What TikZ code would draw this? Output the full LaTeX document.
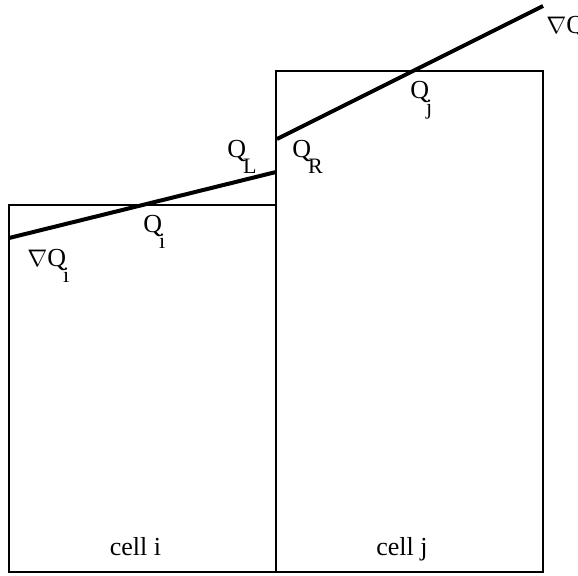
\documentclass[tikz,border=0pt]{standalone}
\usepackage{fontspec}
\setmainfont{Liberation Serif}
\usetikzlibrary{calc}
\def\sub#1{\hspace{-1.5pt}\raisebox{-8pt}{\fontsize{11}{13}\selectfont #1}}

\begin{document}
\begin{tikzpicture}[x=0.5pt,y=-0.5pt]
	\useasboundingbox (0,0) rectangle (578,575);
	\tikzset{lbl/.style={inner sep=0pt,font=\fontsize{13}{15}\selectfont},
	         slope/.style={line width=2pt}}
	% cells
	\coordinate (ia) at (9,205);
	\coordinate (ib) at (276,572);
	\coordinate (ja) at (276,71);
	\coordinate (jb) at (543,572);
	\draw[line width=0.75pt] (ia) rectangle (ib);
	\draw[line width=0.75pt] (ja) rectangle (jb);
	% reconstructed slopes
	\coordinate (li) at (9,238);
	\coordinate (lL) at (276,172);
	\coordinate (rR) at (277,139);
	\coordinate (rj) at (543,6);
	\draw[slope] (li) -- (lL);
	\draw[slope] (rR) -- (rj);
	% labels
	\node[lbl,anchor=base west] (qj) at (410,98) {Q\sub{j}};
	\node[lbl,anchor=base west] (gj) at (546,33) {$\nabla$Q\sub{j}};
	\node[lbl,anchor=base west] (qL) at (227,157) {Q\sub{L}};
	\node[lbl,anchor=base west] (qR) at (292,157) {Q\sub{R}};
	\node[lbl,anchor=base west] (qi) at (143,232) {Q\sub{i}};
	\node[lbl,anchor=base west] (gi) at (27,266) {$\nabla$Q\sub{i}};
	\node[lbl,anchor=base] (ci) at (135.5,555) {cell i};
	\node[lbl,anchor=base] (cj) at (402,555) {cell j};
\end{tikzpicture}
\end{document}
